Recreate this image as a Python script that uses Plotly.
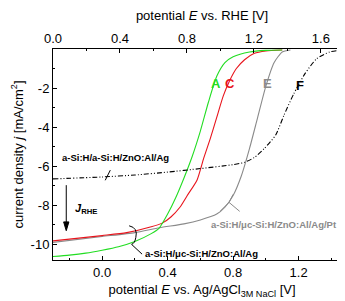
import plotly.graph_objects as go

# ---- data (potential vs Ag/AgCl [V], current density [mA/cm2]) ----
a_x = [-0.3, -0.2, -0.1, 0.0, 0.1, 0.2, 0.3, 0.35, 0.4, 0.45, 0.5, 0.55, 0.6, 0.65, 0.7, 0.75, 0.8, 0.9, 1.0, 1.1]
a_y = [-10.62, -10.55, -10.45, -10.3, -10.12, -9.85, -9.45, -9.15, -8.45, -7.6, -6.6, -5.5, -4.2, -2.7, -1.4, -0.7, -0.4, -0.15, -0.07, -0.05]

c_x = [-0.3, 0.0, 0.15, 0.3, 0.37, 0.42, 0.475, 0.52, 0.58, 0.62, 0.66, 0.7, 0.74, 0.78, 0.82, 0.87, 0.93, 1.0, 1.1]
c_y = [-9.82, -9.55, -9.4, -9.1, -8.9, -8.6, -8.1, -7.5, -6.7, -5.6, -4.6, -3.5, -2.4, -1.6, -1.0, -0.55, -0.22, -0.1, -0.05]

e_x = [-0.3, 0.0, 0.2, 0.35, 0.5, 0.6, 0.7, 0.75, 0.8, 0.85, 0.9, 0.95, 1.0, 1.05, 1.1, 1.15]
e_y = [-9.9, -9.6, -9.4, -9.15, -8.95, -8.75, -8.45, -8.1, -7.5, -6.5, -5.1, -3.5, -1.9, -0.7, -0.15, -0.05]

f_x = [-0.3, 0.0, 0.2, 0.4, 0.6, 0.8, 0.87, 0.93, 0.99, 1.06, 1.11, 1.17, 1.24, 1.31, 1.39, 1.45, 1.52]
f_y = [-6.65, -6.55, -6.45, -6.3, -6.12, -5.92, -5.8, -5.55, -5.1, -4.4, -3.4, -2.3, -1.25, -0.5, -0.15, -0.07, -0.04]

x_ticks = [0.0, 0.4, 0.8, 1.2]
x_ticklabels = ["0.0", "0.4", "0.8", "1.2"]
top_ticks = [0.0, 0.4, 0.8, 1.2, 1.6]
top_ticklabels = ["0.0", "0.4", "0.8", "1.2", "1.6"]
y_ticks = [-10, -8, -6, -4, -2]
y_ticklabels = ["-10", "-8", "-6", "-4", "-2"]

GREEN = "#22dd22"
RED = "#e8141c"
GRAY = "#8a8a8a"
FONT = "Liberation Sans, Arial, sans-serif"

fig = go.Figure()
fig.add_trace(go.Scatter(x=e_x, y=e_y, mode="lines", line=dict(color=GRAY, width=1.1, shape="spline", smoothing=0.6)))
fig.add_trace(go.Scatter(x=c_x, y=c_y, mode="lines", line=dict(color=RED, width=1.1, shape="spline", smoothing=0.6)))
fig.add_trace(go.Scatter(x=a_x, y=a_y, mode="lines", line=dict(color=GREEN, width=1.1, shape="spline", smoothing=0.6)))
fig.add_trace(go.Scatter(x=f_x, y=f_y, mode="lines",
                         line=dict(color="black", width=1.1, shape="spline", smoothing=0.6,
                                   dash="5px,2px,1px,2px,1px,2px")))
# invisible trace to activate the top axis
fig.add_trace(go.Scatter(x=[0, 1.78], y=[None, None], xaxis="x2", mode="lines", showlegend=False, hoverinfo="skip"))

axis_common = dict(showline=True, linecolor="black", linewidth=1, ticks="inside", ticklen=4,
                   tickcolor="black", showgrid=False, zeroline=False, automargin=False,
                   tickfont=dict(family=FONT, size=13, color="black"))

fig.update_layout(
    template="none",
    width=345, height=301,
    margin=dict(l=45, r=2, t=41, b=49),
    paper_bgcolor="white", plot_bgcolor="white",
    showlegend=False,
    font=dict(family=FONT, size=13, color="black"),
    xaxis=dict(range=[-0.3, 1.52], tickvals=x_ticks, ticktext=x_ticklabels,
               minor=dict(dtick=0.2, tick0=0, ticks="inside", ticklen=2, tickcolor="black"),
               title=dict(text="potential <i>E</i> vs. Ag/AgCl<sub>3M NaCl</sub> [V]", standoff=6,
                          font=dict(family=FONT, size=13)),
               **axis_common),
    xaxis2=dict(range=[0, 1.78], overlaying="x", side="top", anchor="y",
                tickvals=top_ticks, ticktext=top_ticklabels,
                minor=dict(dtick=0.2, tick0=0, ticks="inside", ticklen=2, tickcolor="black"),
                title=dict(text="potential <i>E</i> vs. RHE [V]", standoff=10,
                           font=dict(family=FONT, size=13)),
                **axis_common),
    yaxis=dict(range=[-10.8, 0], tickvals=y_ticks, ticktext=y_ticklabels, mirror="ticks",
               minor=dict(dtick=1, tick0=0, ticks="inside", ticklen=2, tickcolor="black"),
               title=dict(text="current density <i>j</i> [mA/cm<sup>2</sup>]", standoff=4,
                          font=dict(family=FONT, size=13)),
               **axis_common),
)

ann = []
def lab(x, y, text, color, size, xanchor="center"):
    ann.append(dict(x=x, y=y, xref="x", yref="y", text=text, showarrow=False,
                    xanchor=xanchor, yanchor="middle",
                    font=dict(family=FONT, size=size, color=color)))

lab(0.695, -1.75, "<b>A</b>", GREEN, 13)
lab(0.78, -1.75, "<b>C</b>", RED, 13)
lab(1.01, -1.75, "<b>E</b>", GRAY, 13)
lab(1.21, -1.85, "<b>F</b>", "black", 13)
lab(-0.26, -5.54, "<b>a-Si:H/a-Si:H/ZnO:Al/Ag</b>", "black", 9.5, "left")
lab(0.655, -8.97, "<b>a-Si:H/μc-Si:H/ZnO:Al/Ag/Pt</b>", GRAY, 9.5, "left")
lab(0.25, -10.45, "<b>a-Si:H/μc-Si:H/ZnO:Al/Ag</b>", "black", 9.5, "left")
lab(-0.175, -8.2, "<b><i>J</i></b><sub><b>RHE</b></sub>", "black", 11, "left")
fig.update_layout(annotations=ann)

shapes = [
    # J_RHE arrow
    dict(type="line", xref="x", yref="y", x0=-0.219, y0=-6.97, x1=-0.219, y1=-8.9,
         line=dict(color="black", width=1)),
    dict(type="path", xref="x", yref="y", path="M -0.235,-8.85 L -0.203,-8.85 L -0.219,-9.3 Z",
         fillcolor="black", line=dict(color="black", width=1)),
    # leader for top-cell label
    dict(type="line", xref="x", yref="y", x0=0.019, y0=-6.72, x1=0.05, y1=-6.2,
         line=dict(color="black", width=1)),
    # brace for micromorph labels
    dict(type="path", xref="x", yref="y",
         path="M 0.165,-9.05 Q 0.22,-9.15 0.206,-9.64 Q 0.2,-9.95 0.18,-10.0 L 0.244,-10.5",
         line=dict(color="black", width=1)),
    dict(type="path", xref="x", yref="y",
         path="M 0.8,-7.44 L 0.775,-7.85 L 0.72,-8.31 M 0.775,-7.85 L 0.84,-8.31",
         line=dict(color=GRAY, width=1)),
]
fig.update_layout(shapes=shapes)

fig.write_html("out.html")
